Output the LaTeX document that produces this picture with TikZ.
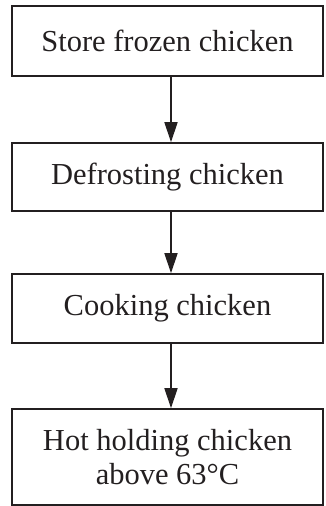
\documentclass[tikz,border=0pt]{standalone}
\usepackage{fontspec}
\setmainfont{Liberation Serif}
\usetikzlibrary{arrows.meta}
\definecolor{ink}{HTML}{231F20}
\begin{document}
\begin{tikzpicture}[x=1pt,y=1pt,
  stepbox/.style={draw=ink, line width=1.6pt, minimum width=311pt, inner sep=0pt,
    align=center, text=ink, font=\fontsize{30.5}{34}\selectfont},
  flow/.style={draw=ink, line width=1.6pt, -{Stealth[length=20pt,width=13pt,inset=0pt]}}]
\useasboundingbox (0,0) rectangle (325,-506);
\node[stepbox, minimum height=70pt] (b1) at (167.5,-41) {Store frozen chicken};
\node[stepbox, minimum height=68pt] (b2) at (167.5,-177) {Defrosting chicken};
\node[stepbox, minimum height=69pt] (b3) at (167.5,-308.5) {Cooking chicken};
\node[stepbox, minimum height=96pt] (b4) at (167.5,-457) {Hot holding chicken\\above 63°C};
\draw[flow] ([xshift=3.5pt]b1.south) -- ([xshift=3.5pt]b2.north);
\draw[flow] ([xshift=3.5pt]b2.south) -- ([xshift=3.5pt]b3.north);
\draw[flow] ([xshift=3.5pt]b3.south) -- ([xshift=3.5pt]b4.north);
\end{tikzpicture}
\end{document}
